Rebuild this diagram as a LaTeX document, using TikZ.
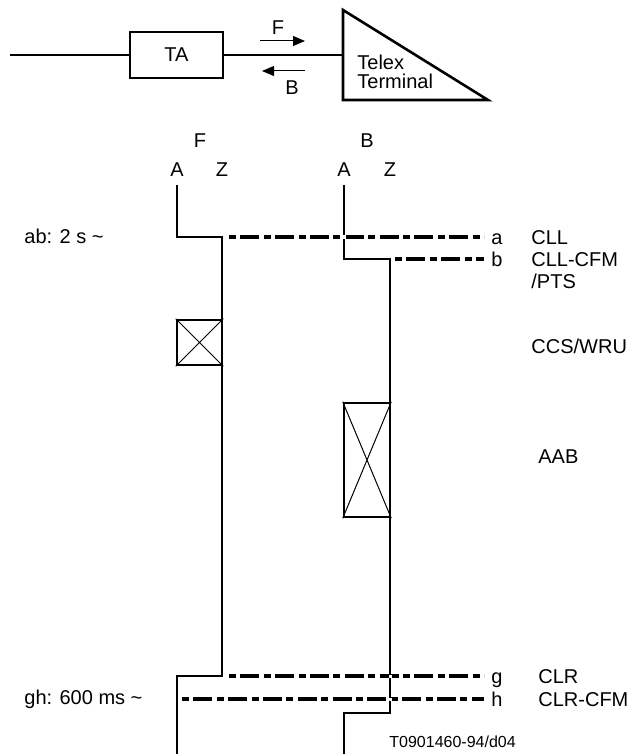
\documentclass[tikz,border=0pt]{standalone}
\usepackage{fontspec}
\setmainfont{Liberation Sans}
\usetikzlibrary{arrows.meta, positioning, calc}

\begin{document}
\begin{tikzpicture}[x=0.5pt, y=-0.5pt,
    every node/.style={font=\fontsize{10}{12}\selectfont},
    wire/.style={line width=1.3pt},
    box/.style={draw, line width=1.3pt, inner sep=0pt},
    lbl/.style={anchor=west, inner sep=0pt, text height=7.2pt, text depth=0pt},
    mid/.style={inner sep=0pt, text height=7.2pt, text depth=0pt},
    sig/.style={line width=2pt, dash pattern=on 3.5pt off 2.2pt on 9.5pt off 2.2pt},
    dir/.style={-{Triangle[length=6pt, width=5pt]}, line width=0.5pt},
    diag/.style={line width=0.5pt},
    gap/.style={fill=white}
  ]
  \useasboundingbox (0,0) rectangle (634,754);

  % --- TOP: TA AND TELEX TERMINAL ---
  \coordinate (lin) at (10,55);
  \node[box, minimum width=46.5pt, minimum height=23pt] (ta) at (176.5,55) {TA};
  \coordinate (term) at (343,55);
  \draw[wire] (lin) -- (ta.west);
  \draw[wire] (ta.east) -- (term);
  \draw[wire, line join=miter] (343,10) -- (343,100) -- (488,100) -- cycle;
  \node[lbl] (telex) at (357,62) {Telex};
  \node[lbl] (termtxt) at (357,81) {Terminal};

  \coordinate (fs) at (260,41);
  \coordinate (fe) at (305,41);
  \coordinate (bs) at (305,71);
  \coordinate (be) at (262,71);
  \draw[dir] (fs) -- (fe);
  \draw[dir] (bs) -- (be);
  \node[mid] (fdir) at (278,27) {F};
  \node[mid] (bdir) at (292,87) {B};

  % --- HEADINGS ---
  \node[mid] (fh) at (200,140) {F};
  \node[mid] (bh) at (367,140) {B};
  \node[mid] (fa) at (177,169) {A};
  \node[mid] (fz) at (222,169) {Z};
  \node[mid] (ba) at (344,169) {A};
  \node[mid] (bz) at (390,169) {Z};

  % --- LINE STATES ---
  \draw[wire] (177,185) -- (177,237) -- (222,237) -- (222,676) -- (177,676) -- (177,754);
  \draw[wire] (344,185) -- (344,259) -- (390,259) -- (390,713) -- (344,713) -- (344,754);

  % boxes with crosses
  \node[box, minimum width=22.5pt, minimum height=22.5pt] (ccs) at (199.5,342.5) {};
  \draw[diag] (ccs.north west) -- (ccs.south east) (ccs.north east) -- (ccs.south west);
  \node[box, minimum width=23pt, minimum height=57pt] (aab) at (367,460) {};
  \draw[diag] (aab.north west) -- (aab.south east) (aab.north east) -- (aab.south west);

  % --- SIGNALS ---
  \node[lbl] (a) at (491,237) {a};
  \node[lbl] (b) at (491,259) {b};
  \node[lbl] (g) at (491,676) {g};
  \node[lbl] (h) at (491,699) {h};
  \draw[sig] (229,237) -- ([xshift=-3.5pt]a.west);
  \draw[sig] (395,259) -- ([xshift=-3.5pt]b.west);
  \draw[sig] (229,676) -- ([xshift=-3.5pt]g.west);
  \draw[sig] (182,699) -- ([xshift=-3.5pt]h.west);

  % crossings
  \foreach \cx/\cy in {344/237, 390/676, 390/699}
    \fill[gap] (\cx-1.5,\cy-1.5) rectangle (\cx+1.5,\cy+1.5);

  \node[lbl] (cll) at (531,237) {CLL};
  \node[lbl] (cllcfm) at (531,259) {CLL-CFM};
  \node[lbl] (pts) at (531,281) {/PTS};
  \node[lbl] (wru) at (531,346) {CCS/WRU};
  \node[lbl] (aabl) at (538,456) {AAB};
  \node[lbl] (clr) at (538,676) {CLR};
  \node[lbl] (clrcfm) at (538,699) {CLR-CFM};

  \node[lbl] (tab) at (24,236) {ab: 2 s \~{}};
  \node[lbl] (tgh) at (24,697) {gh: 600 ms \~{}};

  \node[lbl, font=\fontsize{8}{9.6}\selectfont] (ref) at (389,740) {T0901460-94/d04};
\end{tikzpicture}
\end{document}
